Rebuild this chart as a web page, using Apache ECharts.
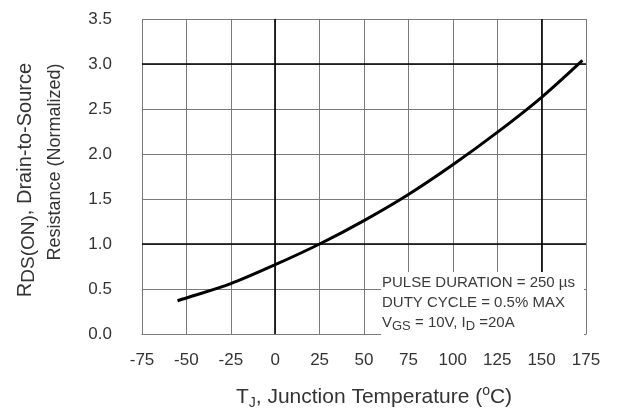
<!DOCTYPE html>
<html><head><meta charset="utf-8">
<script src="https://cdn.jsdelivr.net/npm/echarts@6/dist/echarts.min.js"></script>
<style>html,body{margin:0;padding:0;background:#fff}#c{width:625px;height:411px}</style>
</head><body><div id="c"></div>
<script>
// Data
const temperatures = [-55, -50, -25, 0, 25, 50, 75, 100, 125, 150, 173];
const resistance   = [0.37, 0.40, 0.56, 0.77, 1.00, 1.26, 1.55, 1.88, 2.24, 2.63, 3.04];
const xRange = {min: -75, max: 175, step: 25};
const yRange = {min: 0, max: 3.5, step: 0.5};
const boldXLines = [0, 150];
const boldYLines = [1.0, 3.0];
const yTitleLine1 = ['R', 'DS(ON)', ', Drain-to-Source'];
const yTitleLine2 = 'Resistance (Normalized)';
const xTitle = ['T', 'J', ', Junction Temperature (', 'o', 'C)'];
const noteLine1 = 'PULSE DURATION = 250 µs';
const noteLine2 = 'DUTY CYCLE = 0.5% MAX';
const noteLine3 = ['V', 'GS', ' = 10V, I', 'D', ' =20A'];

const FONT = '"Liberation Sans", Arial, sans-serif';
const TXT = '#333';
const GRID = '#7a7a7a';

const chart = echarts.init(document.getElementById('c'), null, {renderer: 'canvas'});
chart.setOption({
  backgroundColor: '#fff',
  animation: false,
  textStyle: {fontFamily: FONT, color: TXT},
  grid: {left: 142, right: 39, top: 19, bottom: 77, containLabel: false, outerBoundsMode: 'none'},
  xAxis: {
    type: 'value', min: xRange.min, max: xRange.max, interval: xRange.step,
    axisLine: {show: true, lineStyle: {color: GRID, width: 1}},
    axisTick: {show: false},
    splitLine: {show: true, lineStyle: {color: GRID, width: 1}},
    axisLabel: {fontSize: 17, color: TXT, margin: 18, fontFamily: FONT},
    name: '{n|' + xTitle[0] + '}{s|' + xTitle[1] + '}{n|' + xTitle[2] + '}{p|' + xTitle[3] + '}{n|' + xTitle[4] + '}',
    nameLocation: 'middle', nameGap: 50,
    nameTextStyle: {
      fontFamily: FONT, color: TXT, fontSize: 21, padding: [0, 0, 0, 20],
      rich: {
        n: {fontSize: 21, fontFamily: FONT, color: TXT, lineHeight: 22},
        s: {fontSize: 14, fontFamily: FONT, color: TXT, verticalAlign: 'bottom', lineHeight: 14},
        p: {fontSize: 14, fontFamily: FONT, color: TXT, verticalAlign: 'top', lineHeight: 26}
      }
    }
  },
  yAxis: {
    type: 'value', min: yRange.min, max: yRange.max, interval: yRange.step,
    axisLine: {show: true, lineStyle: {color: GRID, width: 1}},
    axisTick: {show: false},
    splitLine: {show: true, lineStyle: {color: GRID, width: 1}},
    axisLabel: {fontSize: 17, color: TXT, margin: 30, fontFamily: FONT,
      formatter: v => v.toFixed(1)}
  },
  series: [{
    type: 'line',
    data: temperatures.map((t, i) => [t, resistance[i]]),
    smooth: 0.3,
    showSymbol: false,
    lineStyle: {color: '#000', width: 3},
    z: 5,
    markLine: {
      silent: true, symbol: ['none', 'none'],
      label: {show: false},
      lineStyle: {color: '#000', width: 1.6, type: 'solid'},
      data: boldXLines.map(v => ({xAxis: v})).concat(boldYLines.map(v => ({yAxis: v})))
    }
  }],
  graphic: [
    {
      type: 'text', x: 25, y: 180, rotation: Math.PI / 2, zlevel: 1,
      style: {
        text: '{n|' + yTitleLine1[0] + '}{s|' + yTitleLine1[1] + '}{n|' + yTitleLine1[2] + '}',
        align: 'center', verticalAlign: 'middle', fill: TXT, font: '20px ' + FONT,
        rich: {
          n: {fontSize: 20, fontFamily: FONT, fill: TXT, lineHeight: 26},
          s: {fontSize: 19, fontFamily: FONT, fill: TXT, lineHeight: 20, verticalAlign: 'bottom'}
        }
      }
    },
    {
      type: 'text', x: 55, y: 162, rotation: Math.PI / 2, zlevel: 1,
      style: {
        text: yTitleLine2, align: 'center', verticalAlign: 'middle',
        fill: TXT, font: '18px ' + FONT
      }
    },
    {
      type: 'group', left: 381, top: 272, zlevel: 1,
      children: [
        {type: 'rect', zlevel: 1, shape: {x: 0, y: 0, width: 203, height: 65}, style: {fill: '#fff'}},
        {type: 'text', zlevel: 1, x: 1, y: 1, style: {
          text: '{n|' + noteLine1 + '}\n{n|' + noteLine2 + '}\n{n|' + noteLine3[0] + '}{s|' + noteLine3[1] + '}{n|' + noteLine3[2] + '}{s|' + noteLine3[3] + '}{n|' + noteLine3[4] + '}',
          font: '15px ' + FONT, fill: '#3a3a3a',
          rich: {
            n: {fontSize: 15, fontFamily: FONT, fill: '#3a3a3a', lineHeight: 20},
            s: {fontSize: 13, fontFamily: FONT, fill: '#3a3a3a', lineHeight: 14, verticalAlign: 'bottom'}
          }
        }}
      ]
    }
  ]
});
</script></body></html>
